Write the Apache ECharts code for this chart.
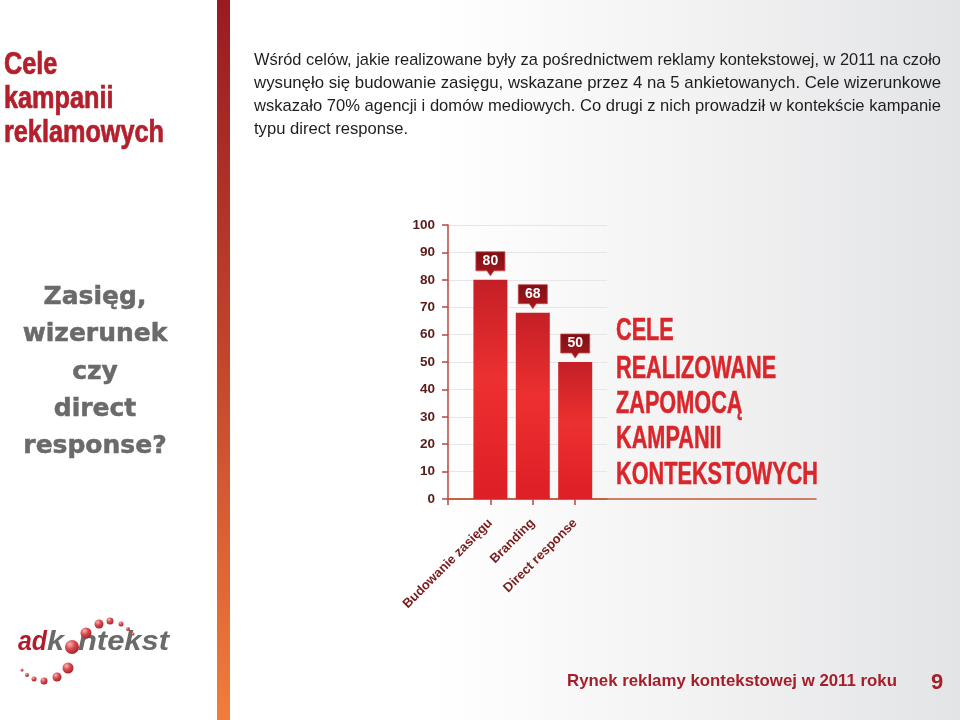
<!DOCTYPE html>
<html><head><meta charset="utf-8">
<script src="https://cdn.jsdelivr.net/npm/echarts@6/dist/echarts.min.js"></script>
<style>html,body{margin:0;padding:0;background:#fff}#c{width:960px;height:720px}</style>
</head><body><div id="c"></div>
<script>
// ---- data ----
const categories = ['Budowanie zasięgu', 'Branding', 'Direct response'];
const values = [80, 68, 50];
const yMax = 100;
const yStep = 10;
const chartTitleLines = ['CELE', 'REALIZOWANE', 'ZAPOMOCĄ', 'KAMPANII', 'KONTEKSTOWYCH'];
const sideTitleLines = ['Cele', 'kampanii', 'reklamowych'];
const questionLines = ['Zasięg,', 'wizerunek', 'czy', 'direct', 'response?'];
const paragraphLines = [
  'Wśród celów, jakie realizowane były za pośrednictwem reklamy kontekstowej, w 2011 na czoło',
  'wysunęło się budowanie zasięgu, wskazane przez 4 na 5 ankietowanych. Cele wizerunkowe',
  'wskazało 70% agencji i domów mediowych. Co drugi z nich prowadził w kontekście kampanie',
  'typu direct response.'
];
const footerText = 'Rynek reklamy kontekstowej w 2011 roku';
const pageNumber = '9';

// ---- helpers ----
const ctx = document.createElement('canvas').getContext('2d');
function measure(text, font) { ctx.font = font; return ctx.measureText(text).width; }

const chart = echarts.init(document.getElementById('c'), null, { renderer: 'canvas' });

const barData = values.map((v, i) => [i + 1, v]);

const graphic = [];
// background
graphic.push({
  type: 'rect', z: -100, silent: true,
  shape: { x: 0, y: 0, width: 960, height: 720 },
  style: { fill: new echarts.graphic.LinearGradient(0, 0, 1, 0, [
    { offset: 0, color: '#ffffff' }, { offset: 0.45, color: '#ffffff' },
    { offset: 0.75, color: '#f1f1f2' }, { offset: 1, color: '#e3e4e6' }]) }
});
// vertical bar
graphic.push({
  type: 'rect', z: 5, silent: true,
  shape: { x: 217, y: 0, width: 13, height: 720 },
  style: { fill: new echarts.graphic.LinearGradient(0, 0, 0, 1, [
    { offset: 0, color: '#981b22' }, { offset: 0.5, color: '#c4452c' }, { offset: 1, color: '#f27c3c' }]) }
});
// side title
const sideFont = 'bold 31px "Liberation Sans", Arial, sans-serif';
const sideScale = 160 / measure(sideTitleLines[2], sideFont);
const sideMid = [65, 99, 133];
sideTitleLines.forEach((t, i) => graphic.push({
  type: 'text', z: 10, x: 4, y: sideMid[i], scaleX: sideScale,
  style: { text: t, font: sideFont, fill: '#b3202c', stroke: '#b3202c', lineWidth: 0.7, verticalAlign: 'middle', align: 'left' }
}));
// question text
graphic.push({
  type: 'text', z: 10, x: 95, y: 279,
  style: { text: questionLines.join('\n'), font: 'bold 25px "DejaVu Sans", sans-serif', lineHeight: 37.3,
    fill: '#6a6a6a', stroke: '#6a6a6a', lineWidth: 0.5, align: 'center', verticalAlign: 'top' }
});
// paragraph
const pFont = '17px "Liberation Sans", Arial, sans-serif';
const pTarget = 687;
const pScales = paragraphLines.slice(0, 3).map(t => pTarget / measure(t, pFont));
const pAvg = pScales.reduce((a, b) => a + b, 0) / pScales.length;
const pMid = [60.5, 83.5, 106.5, 129.5];
paragraphLines.forEach((t, i) => graphic.push({
  type: 'text', z: 10, x: 254, y: pMid[i], scaleX: i < 3 ? pScales[i] : pAvg,
  style: { text: t, font: pFont, fill: '#1e1e1e', verticalAlign: 'middle', align: 'left' }
}));
// chart title (right)
const tFont = 'bold 31px "Liberation Sans", Arial, sans-serif';
const tScale = 202 / measure(chartTitleLines[4], tFont);
const tMid = [331, 369, 404, 439, 475];
chartTitleLines.forEach((t, i) => graphic.push({
  type: 'text', z: 10, x: 616, y: tMid[i], scaleX: tScale,
  style: { text: t, font: tFont, fill: '#d9262b', stroke: '#d9262b', lineWidth: 0.5, verticalAlign: 'middle', align: 'left' }
}));
// footer
const fFont = 'bold 17px "Liberation Sans", Arial, sans-serif';
graphic.push({
  type: 'text', z: 10, x: 567, y: 681, scaleX: 330 / measure(footerText, fFont),
  style: { text: footerText, font: fFont, fill: '#a51f2b', verticalAlign: 'middle', align: 'left' }
});
graphic.push({
  type: 'text', z: 10, x: 937, y: 683,
  style: { text: pageNumber, font: 'bold 22px "Liberation Sans", Arial, sans-serif', fill: '#a51f2b', verticalAlign: 'middle', align: 'center' }
});
// logo
const lFont = 'italic bold 28px "Liberation Sans", Arial, sans-serif';
const logoParts = [['ad', 18, 29, '#b01c2c'], ['k', 47, 17, '#6a6a6a'], ['ntekst', 78, 91, '#6a6a6a']];
logoParts.forEach(p => graphic.push({
  type: 'text', z: 10, x: p[1], y: 656, scaleX: p[2] / measure(p[0], lFont),
  style: { text: p[0], font: lFont, fill: p[3], verticalAlign: 'bottom', align: 'left' }
}));
const ballGrad = () => new echarts.graphic.RadialGradient(0.35, 0.3, 0.8, [
  { offset: 0, color: '#f6b5b5' }, { offset: 0.45, color: '#d9474c' }, { offset: 1, color: '#9c1c24' }]);
const balls = [[72, 647, 7], [86, 633, 5.5], [99, 624, 4.5], [110, 621, 3.5], [121, 624, 2.5], [128, 629, 2], [133, 634, 1.5],
  [68, 668, 5.5], [57, 677, 4.5], [44, 681, 3.5], [34, 679, 2.5], [27, 675, 2], [22, 670, 1.5]];
balls.forEach(b => graphic.push({
  type: 'circle', z: 11, silent: true, shape: { cx: b[0], cy: b[1], r: b[2] }, style: { fill: ballGrad() }
}));

const axisRed = '#b8473f';
const option = {
  animation: false,
  graphic: graphic,
  grid: [
    { left: 448, top: 225, width: 159, height: 274, containLabel: false },
    { left: 448, top: 225, width: 368, height: 274, containLabel: false }
  ],
  xAxis: [
    {
      type: 'value', gridIndex: 0, min: 0, max: 3.75, interval: 1,
      axisLine: { show: true, lineStyle: { color: '#c45a3a', width: 1.5 } },
      axisTick: { show: true, length: 6, lineStyle: { color: axisRed, width: 1.5 }, customValues: [0, 1, 2, 3] },
      axisLabel: {
        customValues: [1, 2, 3], rotate: 45, margin: 22,
        formatter: v => categories[Math.round(v) - 1] || '',
        color: '#7a1c1c', fontWeight: 'bold', fontSize: 13, fontFamily: '"Liberation Sans", Arial, sans-serif'
      },
      splitLine: { show: false }
    },
    {
      type: 'value', gridIndex: 1, min: 0, max: 1,
      axisLine: { show: true, lineStyle: { color: '#c45a3a', width: 1.5 } },
      axisTick: { show: false }, axisLabel: { show: false }, splitLine: { show: false }
    }
  ],
  yAxis: [
    {
      type: 'value', gridIndex: 0, min: 0, max: yMax, interval: yStep,
      axisLine: { show: true, lineStyle: { color: axisRed, width: 1.5 } },
      axisTick: { show: true, length: 6, lineStyle: { color: axisRed, width: 1.5 } },
      axisLabel: { margin: 13, color: '#5b1a1a', fontWeight: 'bold', fontSize: 13.5, fontFamily: '"Liberation Sans", Arial, sans-serif' },
      splitLine: { show: true, lineStyle: { color: '#e6e6e6', width: 1 } }
    },
    { type: 'value', gridIndex: 1, min: 0, max: 1, show: false }
  ],
  series: [
    {
      type: 'bar', xAxisIndex: 0, yAxisIndex: 0, barWidth: 34, data: barData, z: 3,
      itemStyle: {
        color: new echarts.graphic.LinearGradient(0, 0, 0, 1, [
          { offset: 0, color: '#c41f27' }, { offset: 0.45, color: '#ec302f' }, { offset: 1, color: '#dd1f26' }])
      }
    },
    {
      type: 'scatter', xAxisIndex: 0, yAxisIndex: 0, data: barData, z: 4,
      symbol: 'path://M0,0 H29 V19 H18 L14.5,24 L11,19 H0 Z',
      symbolSize: [29, 24], symbolOffset: [0, -16],
      itemStyle: {
        opacity: 1,
        color: new echarts.graphic.LinearGradient(0, 0, 0, 1, [
          { offset: 0, color: '#7e0e16' }, { offset: 1, color: '#a8181e' }]),
        borderColor: '#c9484a', borderWidth: 0.8
      },
      label: {
        show: true, position: 'inside', offset: [0, -2.5],
        formatter: p => String(p.value[1]),
        color: '#ffffff', fontWeight: 'bold', fontSize: 14, fontFamily: '"Liberation Sans", Arial, sans-serif'
      }
    }
  ]
};
chart.setOption(option);
</script>
</body></html>
